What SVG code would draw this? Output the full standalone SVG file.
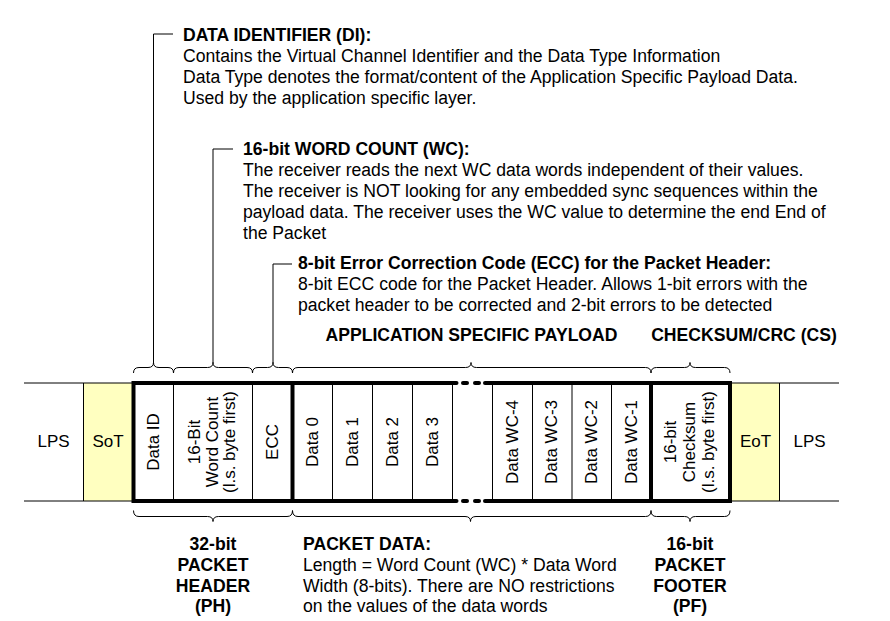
<svg xmlns="http://www.w3.org/2000/svg" width="890" height="621" viewBox="0 0 890 621">
<style>
  text { font-family: "Liberation Sans", Arial, sans-serif; font-size: 17px; fill: #000; }
  .n text { font-size: 17.6px; }
  .b { font-weight: bold; }
  .c { text-anchor: middle; }
  .thin { stroke: #000; stroke-width: 1; fill: none; }
  .thick { stroke: #000; stroke-width: 4; fill: none; }
  .rc { stroke-linecap: round; }
  .yellow { fill: #ffffc0; }
  .conn { stroke: #000; stroke-width: 1; fill: none; }
</style>
<rect width="890" height="621" fill="#fff"/>

<g id="lps-left">
  <line class="thin" x1="24" y1="383" x2="83" y2="383"/>
  <line class="thin" x1="24" y1="501" x2="83" y2="501"/>
  <text class="c" x="53.5" y="447">LPS</text>
</g>
<g id="sot">
  <rect class="yellow" x="83" y="383" width="50" height="118"/>
  <line class="thin" x1="83" y1="383" x2="133" y2="383"/>
  <line class="thin" x1="83" y1="501" x2="133" y2="501"/>
  <line class="thin" x1="83.5" y1="383" x2="83.5" y2="501"/>
  <text class="c" x="108" y="447">SoT</text>
</g>

<g id="packet-frame">
  <line class="thick" x1="133.5" y1="383" x2="456" y2="383"/>
  <line class="thick rc" x1="456" y1="383" x2="456.5" y2="383"/>
  <line class="thick rc" x1="463" y1="383" x2="467" y2="383"/>
  <line class="thick rc" x1="475" y1="383" x2="479" y2="383"/>
  <line class="thick rc" x1="485" y1="383" x2="487" y2="383"/>
  <line class="thick" x1="486" y1="383" x2="730" y2="383"/>
  <line class="thick" x1="133.5" y1="501" x2="456" y2="501"/>
  <line class="thick rc" x1="456" y1="501" x2="456.5" y2="501"/>
  <line class="thick rc" x1="463" y1="501" x2="467" y2="501"/>
  <line class="thick rc" x1="475" y1="501" x2="479" y2="501"/>
  <line class="thick rc" x1="485" y1="501" x2="487" y2="501"/>
  <line class="thick" x1="486" y1="501" x2="730" y2="501"/>
  <line class="thick" x1="133.5" y1="381" x2="133.5" y2="503"/>
  <line class="thick" x1="292.5" y1="381" x2="292.5" y2="503"/>
  <line class="thick" x1="651" y1="381" x2="651" y2="503"/>
  <line class="thick" x1="730" y1="381" x2="730" y2="503"/>
</g>

<g id="data-id">
  <line class="thin" x1="173.5" y1="385" x2="173.5" y2="499"/>
  <text class="c" transform="translate(159,442) rotate(-90)">Data ID</text>
</g>
<g id="word-count">
  <line class="thin" x1="252.5" y1="385" x2="252.5" y2="499"/>
  <text class="c" transform="translate(200,442) rotate(-90)">16-Bit</text>
  <text class="c" transform="translate(217.5,442) rotate(-90)">Word Count</text>
  <text class="c" transform="translate(235,442) rotate(-90)">(l.s. byte first)</text>
</g>
<g id="ecc">
  <text class="c" transform="translate(277.5,442) rotate(-90)">ECC</text>
</g>
<g id="data-0">
  <line class="thin" x1="332.5" y1="385" x2="332.5" y2="499"/>
  <text class="c" transform="translate(317.5,442) rotate(-90)">Data 0</text>
</g>
<g id="data-1">
  <line class="thin" x1="372.5" y1="385" x2="372.5" y2="499"/>
  <text class="c" transform="translate(357.5,442) rotate(-90)">Data 1</text>
</g>
<g id="data-2">
  <line class="thin" x1="412.5" y1="385" x2="412.5" y2="499"/>
  <text class="c" transform="translate(397.5,442) rotate(-90)">Data 2</text>
</g>
<g id="data-3">
  <line class="thin" x1="452.5" y1="385" x2="452.5" y2="499"/>
  <text class="c" transform="translate(437.5,442) rotate(-90)">Data 3</text>
</g>
<g id="data-wc-4">
  <line class="thin" x1="492.5" y1="385" x2="492.5" y2="499"/>
  <line class="thin" x1="532.5" y1="385" x2="532.5" y2="499"/>
  <text class="c" transform="translate(517.5,442) rotate(-90)">Data WC-4</text>
</g>
<g id="data-wc-3">
  <line class="thin" x1="572" y1="385" x2="572" y2="499"/>
  <text class="c" transform="translate(557,442) rotate(-90)">Data WC-3</text>
</g>
<g id="data-wc-2">
  <line class="thin" x1="611.5" y1="385" x2="611.5" y2="499"/>
  <text class="c" transform="translate(597,442) rotate(-90)">Data WC-2</text>
</g>
<g id="data-wc-1">
  <text class="c" transform="translate(636.5,442) rotate(-90)">Data WC-1</text>
</g>
<g id="checksum">
  <text class="c" transform="translate(676,442) rotate(-90)">16-bit</text>
  <text class="c" transform="translate(695,442) rotate(-90)">Checksum</text>
  <text class="c" transform="translate(714,442) rotate(-90)">(l.s. byte first)</text>
</g>
<g id="eot">
  <rect class="yellow" x="732" y="383" width="47" height="118"/>
  <line class="thin" x1="732" y1="383" x2="779" y2="383"/>
  <line class="thin" x1="732" y1="501" x2="779" y2="501"/>
  <line class="thin" x1="779.5" y1="383" x2="779.5" y2="501"/>
  <text class="c" x="755.5" y="447">EoT</text>
</g>
<g id="lps-right">
  <line class="thin" x1="779" y1="383" x2="839" y2="383"/>
  <line class="thin" x1="779" y1="501" x2="839" y2="501"/>
  <text class="c" x="809.5" y="447">LPS</text>
</g>

<g id="connectors">
  <path class="conn" d="M153.5,34 H173 M153.5,34 V363"/>
  <path class="conn" d="M213,149 H233 M213,149 V363"/>
  <path class="conn" d="M273,264 H292 M273,264 V363"/>
  <path class="conn" d="M133.5,373 Q133.5,367.5 139,367.5 H148 Q153.5,367.5 153.5,362.5 Q153.5,367.5 159,367.5 H168 Q173.5,367.5 173.5,373"/>
  <path class="conn" d="M173.5,373 Q173.5,367.5 179,367.5 H207.5 Q213,367.5 213,362.5 Q213,367.5 218.5,367.5 H247 Q252.5,367.5 252.5,373"/>
  <path class="conn" d="M252.5,373 Q252.5,367.5 258,367.5 H267.5 Q273,367.5 273,362.5 Q273,367.5 278.5,367.5 H287 Q292.5,367.5 292.5,373"/>
  <path class="conn" d="M292.5,373 Q292.5,367.5 298,367.5 H465.5 Q471,367.5 471,362.5 Q471,367.5 476.5,367.5 H645.5 Q651,367.5 651,373"/>
  <path class="conn" d="M651,373 Q651,367.5 656.5,367.5 H684.5 Q690,367.5 690,362.5 Q690,367.5 695.5,367.5 H724.5 Q730,367.5 730,373"/>
  <path class="conn" d="M133.5,510.5 Q133.5,516.5 139,516.5 H207.5 Q213,516.5 213,521.5 Q213,516.5 218.5,516.5 H287 Q292.5,516.5 292.5,510.5"/>
  <path class="conn" d="M292.5,510.5 Q292.5,516.5 298,516.5 H465 Q470.5,516.5 470.5,521.5 Q470.5,516.5 476,516.5 H645.5 Q651,516.5 651,510.5"/>
  <path class="conn" d="M651,510.5 Q651,516.5 656.5,516.5 H684.5 Q690,516.5 690,521.5 Q690,516.5 695.5,516.5 H724.5 Q730,516.5 730,510.5"/>
</g>

<g id="data-identifier-note" class="n">
  <text class="b" x="183" y="41">DATA IDENTIFIER (DI):</text>
  <text x="183" y="62">Contains the Virtual Channel Identifier and the Data Type Information</text>
  <text x="183" y="83">Data Type denotes the format/content of the Application Specific Payload Data.</text>
  <text x="183" y="103.5">Used by the application specific layer.</text>
</g>
<g id="word-count-note" class="n">
  <text class="b" x="243" y="155">16-bit WORD COUNT (WC):</text>
  <text x="243" y="176">The receiver reads the next WC data words independent of their values.</text>
  <text x="243" y="197">The receiver is NOT looking for any embedded sync sequences within the</text>
  <text x="243" y="218">payload data. The receiver uses the WC value to determine the end End of</text>
  <text x="243" y="238.5">the Packet</text>
</g>
<g id="ecc-note" class="n">
  <text class="b" x="298" y="269">8-bit Error Correction Code (ECC) for the Packet Header:</text>
  <text x="298" y="290">8-bit ECC code for the Packet Header. Allows 1-bit errors with the</text>
  <text x="298" y="310.5">packet header to be corrected and 2-bit errors to be detected</text>
</g>
<g id="payload-label" class="n">
  <text class="b" x="471.5" y="341" text-anchor="middle">APPLICATION SPECIFIC PAYLOAD</text>
</g>
<g id="checksum-label" class="n">
  <text class="b" x="744" y="341" text-anchor="middle">CHECKSUM/CRC (CS)</text>
</g>
<g id="packet-header-label" class="n">
  <text class="b c" x="213" y="550">32-bit</text>
  <text class="b c" x="213" y="571">PACKET</text>
  <text class="b c" x="213" y="592">HEADER</text>
  <text class="b c" x="213" y="612">(PH)</text>
</g>
<g id="packet-data-label" class="n">
  <text class="b" x="303" y="550">PACKET DATA:</text>
  <text x="303" y="571">Length = Word Count (WC) * Data Word</text>
  <text x="303" y="592">Width (8-bits). There are NO restrictions</text>
  <text x="303" y="612">on the values of the data words</text>
</g>
<g id="packet-footer-label" class="n">
  <text class="b c" x="690" y="550">16-bit</text>
  <text class="b c" x="690" y="571">PACKET</text>
  <text class="b c" x="690" y="592">FOOTER</text>
  <text class="b c" x="690" y="612">(PF)</text>
</g>
</svg>
